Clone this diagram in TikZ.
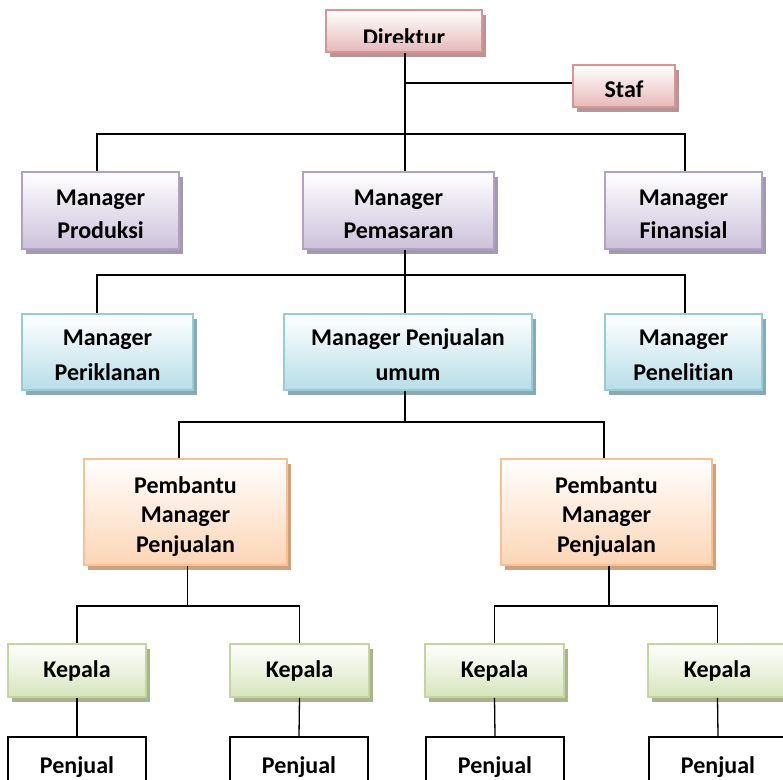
\documentclass[tikz,border=0pt]{standalone}
\usepackage{fontspec}
\setmainfont{Carlito}[Ligatures={NoCommon}]
\usetikzlibrary{shadows}

% border / fill / shadow colours of the box families
\definecolor{pinkB}{HTML}{D99594}\definecolor{pinkF}{HTML}{E6B9B8}\definecolor{pinkS}{HTML}{B59595}
\definecolor{purB}{HTML}{B2A1C7}\definecolor{purF}{HTML}{CCC1DA}\definecolor{purS}{HTML}{A39BAD}
\definecolor{bluB}{HTML}{92CDDC}\definecolor{bluF}{HTML}{B7DEE8}\definecolor{bluS}{HTML}{8FA8AF}
\definecolor{oraB}{HTML}{FAC090}\definecolor{oraF}{HTML}{FCD5B5}\definecolor{oraS}{HTML}{CBA382}
\definecolor{greB}{HTML}{C3D69B}\definecolor{greF}{HTML}{D7E4BD}\definecolor{greS}{HTML}{A8B38F}

\begin{document}
\begin{tikzpicture}[x=1pt,y=-1pt,
  conn/.style={line width=1.3pt, black},
  box/.style={rectangle, draw=#1B, line width=1.8pt, top color=white, bottom color=#1F,
    drop shadow={shadow xshift=4pt, shadow yshift=-5pt, fill=#1S, opacity=1},
    inner sep=0pt, align=center, font=\bfseries\fontsize{24}{33}\selectfont},
  sz/.style 2 args={minimum width=#1pt, minimum height=#2pt},
  lvlone/.style={text height=60pt, text depth=5pt},
  lvltwo/.style={font=\bfseries\fontsize{24}{35}\selectfont, text height=61pt, text depth=5pt},
  lvlthree/.style={font=\bfseries\fontsize{24}{29.5}\selectfont, text height=85pt, text depth=5pt},
  plain/.style={rectangle, draw=black, line width=1.4pt, fill=white, inner sep=0pt,
    text height=10pt, text depth=10pt, font=\bfseries\fontsize{24}{28}\selectfont},
  lbl/.style={inner sep=0pt, font=\bfseries\fontsize{24}{28}\selectfont}]

\useasboundingbox (0,0) rectangle (783,779);

% ---- top: director and staff
\node[box=pink, sz={156}{42}] (dir) at (404,31) {};
\begin{scope}
  \clip (dir.north west) rectangle ([yshift=10pt]dir.south east);
  \node[lbl, anchor=base] (dirtext) at ([yshift=-14pt]dir.center) {Direktur};
\end{scope}
\node[box=pink, sz={102}{42}, text height=23pt, text depth=1pt] (staf) at (624,86) {Staf};

% ---- managers
\node[box=pur, lvlone, sz={157}{77}] (prod) at (100.5,210.5) {Manager\\Produksi};
\node[box=pur, lvlone, sz={191}{77}] (pem)  at (398.5,210.5) {Manager\\Pemasaran};
\node[box=pur, lvlone, sz={157}{77}] (fin)  at (683.5,210.5) {Manager\\Finansial};

\node[box=blu, lvltwo, sz={171}{76}] (ikl) at (107.5,352) {Manager\\Periklanan};
\node[box=blu, lvltwo, sz={248}{76}] (pju) at (408,352)   {Manager Penjualan\\umum};
\node[box=blu, lvltwo, sz={157}{76}] (pen) at (683.5,352) {Manager\\Penelitian};

\node[box=ora, lvlthree, sz={203}{106}] (pb1) at (185.5,512) {Pembantu\\Manager\\Penjualan};
\node[box=ora, lvlthree, sz={211}{106}] (pb2) at (606.5,512) {Pembantu\\Manager\\Penjualan};

% ---- heads and sellers
\node[box=gre, sz={138}{53}] (k1) at (77,670.5)    {Kepala};
\node[box=gre, sz={139}{53}] (k2) at (299.5,670.5) {Kepala};
\node[box=gre, sz={139}{53}] (k3) at (494.5,670.5) {Kepala};
\node[box=gre, sz={139}{53}] (k4) at (717.5,670.5) {Kepala};

\node[plain, sz={138}{72}] (p1) at (77,773)  {Penjual};
\node[plain, sz={138}{72}] (p2) at (299,773) {Penjual};
\node[plain, sz={138}{72}] (p3) at (495,773) {Penjual};
\node[plain, sz={138}{72}] (p4) at (718,773) {Penjual};

% ---- connectors
\coordinate (bus1) at (405,134);
\coordinate (sbr)  at (405,83);
\coordinate (bus2) at (405,275);
\coordinate (bus3) at (405,422);
\coordinate (bus4a) at (187.5,606);
\coordinate (bus4b) at (609,606);

\draw[conn] ([xshift=1pt]dir.south) -- ([xshift=6.5pt]pem.north);
\draw[conn] (sbr) -- (sbr -| staf.west);
\draw[conn] ([xshift=-3.5pt]prod.north) |- (bus1) -| ([xshift=1.5pt]fin.north);

\draw[conn] ([xshift=6.5pt]pem.south) -- ([xshift=-3pt]pju.north);
\draw[conn] ([xshift=-10.5pt]ikl.north) |- (bus2) -| ([xshift=1.5pt]pen.north);

\draw[conn] ([xshift=-3pt]pju.south) -- (bus3);
\draw[conn] ([xshift=-6.5pt]pb1.north) |- (bus3) -| ([xshift=-2.5pt]pb2.north);

\draw[conn] ([xshift=2pt]pb1.south) -- (bus4a);
\draw[conn] (k1.north) |- (bus4a) -| (k2.north);
\draw[conn] ([xshift=2.5pt]pb2.south) -- (bus4b);
\draw[conn] (k3.north) |- (bus4b) -| (k4.north);

\draw[conn] (k1.south) -- (p1.north);
\draw[conn] (k2.south) -- (p2.north);
\draw[conn] (k3.south) -- (p3.north);
\draw[conn] (k4.south) -- (p4.north);
\end{tikzpicture}
\end{document}
